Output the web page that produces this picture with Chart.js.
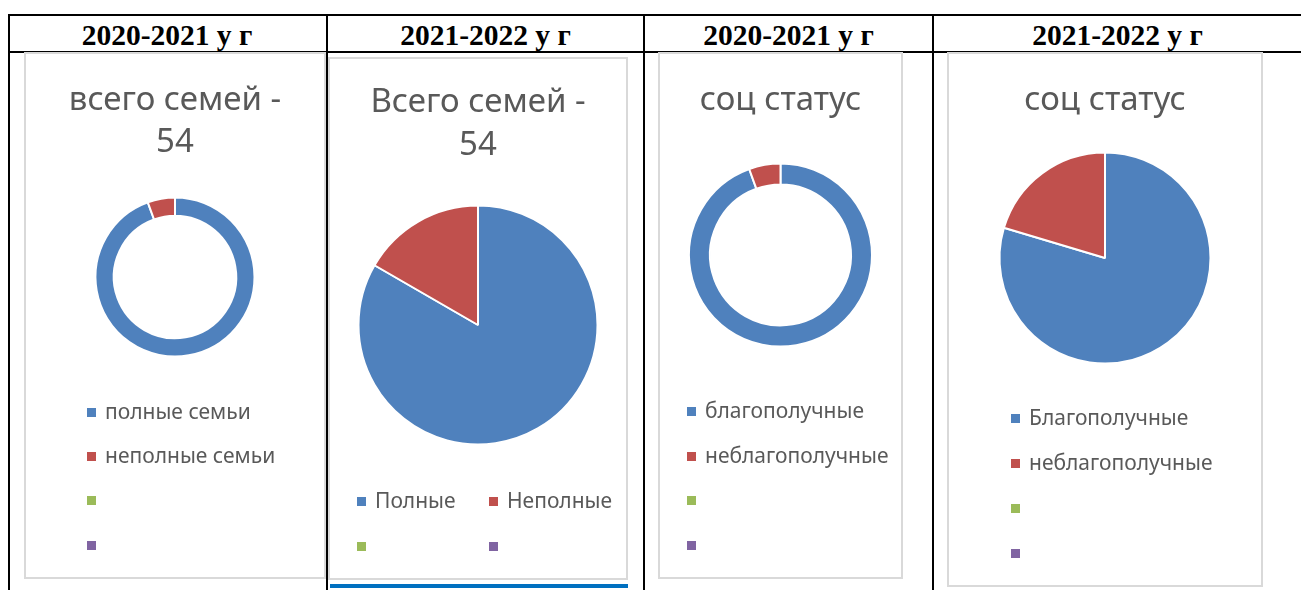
<!DOCTYPE html>
<html>
<head>
<meta charset="utf-8">
<script src="https://cdn.jsdelivr.net/npm/chart.js@4/dist/chart.umd.min.js"></script>
<style>
  html,body{margin:0;padding:0;background:#fff;}
  #page{position:relative;width:1301px;height:590px;overflow:hidden;background:#fff;}
  .hl{position:absolute;background:#000;height:2px;}
  .vl{position:absolute;background:#000;width:2px;top:14px;height:580px;}
  .hdr{position:absolute;top:14px;height:38px;line-height:42px;text-align:center;
       font-family:"Liberation Serif","Times New Roman",serif;font-weight:bold;font-size:29.5px;color:#000;}
  .frame{position:absolute;box-sizing:border-box;border:2px solid #D9D9D9;pointer-events:none;}
  .cv{position:absolute;}
  .legend{position:absolute;font-family:"Noto Sans",sans-serif;font-size:21px;color:#595959;}
  .li{position:absolute;height:44px;line-height:44px;white-space:nowrap;}
  .mk{display:inline-block;width:9px;height:9px;margin-right:9px;vertical-align:middle;position:relative;top:-1px;}
</style>
</head>
<body>
<div id="page">
  <div class="hl" style="left:8px;top:14px;width:1293px;"></div>
  <div class="hl" style="left:8px;top:51px;width:1293px;"></div>
  <div class="vl" style="left:8px;"></div>
  <div class="vl" style="left:326px;"></div>
  <div class="vl" style="left:643px;"></div>
  <div class="vl" style="left:932px;"></div>
  <div style="position:absolute;left:330px;top:584px;width:298px;height:4px;background:#0070C0;"></div>
</div>
<script>
// ---- data ----
const headers = ['2020-2021 у г', '2021-2022 у г', '2020-2021 у г', '2021-2022 у г'];
const titles1 = ['всего семей -', '54'];
const titles2 = ['Всего семей -', '54'];
const titles3 = ['соц статус'];
const titles4 = ['соц статус'];
const labels1 = ['полные семьи', 'неполные семьи', '', ''];
const labels2 = ['Полные', 'Неполные', '', ''];
const labels3 = ['благополучные', 'неблагополучные', '', ''];
const labels4 = ['Благополучные', 'неблагополучные', '', ''];
const values1 = [51, 3];
const values2 = [45, 9];
const values3 = [51, 3];
const values4 = [43, 11];
const palette = ['#4F81BD', '#C0504D', '#9BBB59', '#8064A2'];

const page = document.getElementById('page');

// headers
const hdrCols = [[8, 318], [328, 315], [645, 287], [934, 367]];
headers.forEach((h, i) => {
  const d = document.createElement('div');
  d.className = 'hdr';
  d.style.left = hdrCols[i][0] + 'px';
  d.style.width = hdrCols[i][1] + 'px';
  d.textContent = h;
  page.appendChild(d);
});

const charts = [
  {x:24, y:52, w:302, h:527, type:'doughnut', title:titles1, labels:labels1, values:values1,
   tpad:{top:28,bottom:32.5}, lh:'42px', pbottom:221.5,
   legend:{x:87, y:389, cols:1, colW:0, rowH:44.3}},
  {x:328, y:57, w:300, h:523, type:'pie', title:titles2, labels:labels2, values:values2,
   tpad:{top:24.5,bottom:37}, lh:'43px', pbottom:134.5,
   legend:{x:357, y:478, cols:2, colW:132, rowH:45}},
  {x:658, y:52, w:245, h:527, type:'doughnut', title:titles3, labels:labels3, values:values3,
   tpad:{top:28,bottom:40.5}, lh:'42px', pbottom:231.5,
   legend:{x:687, y:388, cols:1, colW:0, rowH:44.7}},
  {x:947, y:52, w:316, h:535, type:'pie', title:titles4, labels:labels4, values:values4,
   tpad:{top:28,bottom:29.5}, lh:'42px', pbottom:222.5,
   legend:{x:1011, y:395, cols:1, colW:0, rowH:45}}
];

charts.forEach(c => {
  const cv = document.createElement('canvas');
  cv.className = 'cv';
  cv.width = c.w; cv.height = c.h;
  cv.style.left = c.x + 'px'; cv.style.top = c.y + 'px';
  cv.style.width = c.w + 'px'; cv.style.height = c.h + 'px';
  page.appendChild(cv);
  const fr = document.createElement('div');
  fr.className = 'frame';
  fr.style.left = c.x + 'px'; fr.style.top = c.y + 'px';
  fr.style.width = c.w + 'px'; fr.style.height = c.h + 'px';
  page.appendChild(fr);

  new Chart(cv, {
    type: c.type,
    data: {
      labels: c.labels,
      datasets: [{
        data: c.values,
        backgroundColor: palette,
        borderColor: '#FFFFFF',
        borderWidth: 2,
        hoverOffset: 0
      }]
    },
    options: {
      responsive: false,
      animation: false,
      cutout: c.type === 'doughnut' ? '77%' : 0,
      layout: {padding: {top: 0, left: 0, right: 0, bottom: c.pbottom}},
      plugins: {
        legend: {display: false},
        tooltip: {enabled: false},
        title: {
          display: true,
          text: c.title,
          color: '#595959',
          font: {family: 'Noto Sans', size: 33, weight: 'normal', lineHeight: c.lh},
          padding: c.tpad
        }
      }
    }
  });

  // HTML legend built from the labels
  const lg = document.createElement('div');
  lg.className = 'legend';
  lg.style.left = c.legend.x + 'px';
  lg.style.top = c.legend.y + 'px';
  c.labels.forEach((lab, i) => {
    const row = Math.floor(i / c.legend.cols);
    const col = i % c.legend.cols;
    const it = document.createElement('div');
    it.className = 'li';
    it.style.top = (row * c.legend.rowH) + 'px';
    it.style.left = (col * c.legend.colW) + 'px';
    const mk = document.createElement('span');
    mk.className = 'mk';
    mk.style.background = palette[i];
    it.appendChild(mk);
    it.appendChild(document.createTextNode(lab));
    lg.appendChild(it);
  });
  page.appendChild(lg);
});
</script>
</body>
</html>
